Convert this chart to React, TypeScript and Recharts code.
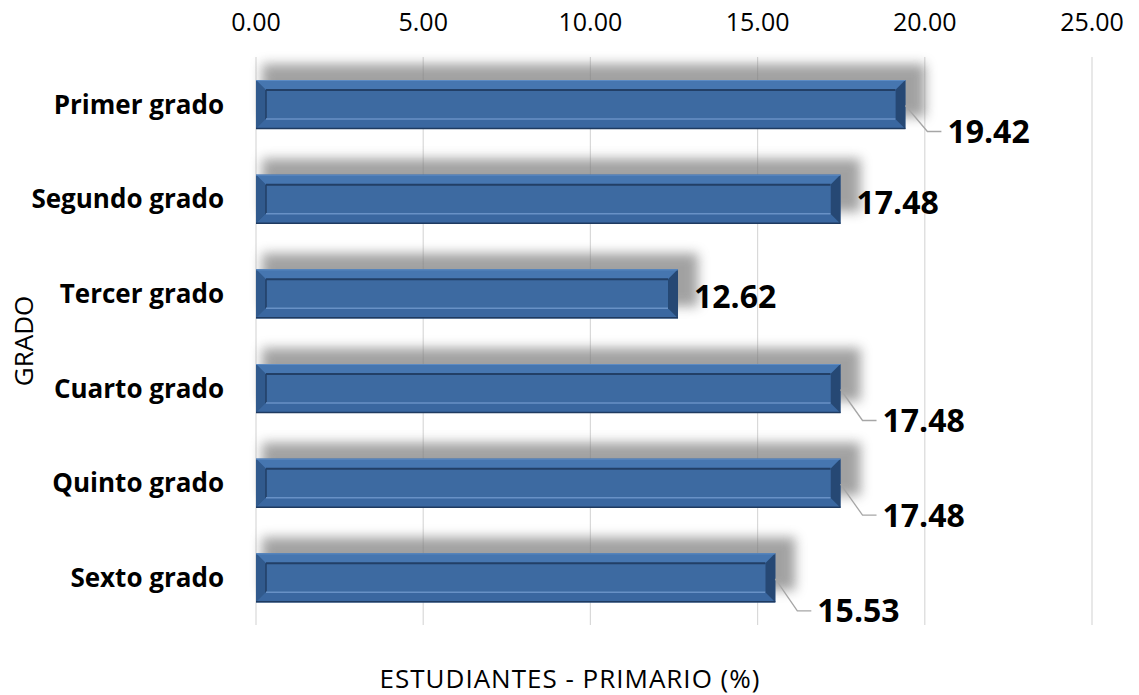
import { BarChart, Bar, XAxis, YAxis, CartesianGrid, LabelList } from 'recharts';

const grades = ['Primer grado', 'Segundo grado', 'Tercer grado', 'Cuarto grado', 'Quinto grado', 'Sexto grado'];
const percentages = [19.42, 17.48, 12.62, 17.48, 17.48, 15.53];
const xTicks = [0, 5, 10, 15, 20, 25];

const data = grades.map((grade, i) => ({ grade, value: percentages[i] }));

// how far Excel pulled each data label down (0 = beside the bar, no leader line)
const labelDrop = [27, 0, 0, 32, 32, 33];

const FONT = '"Open Sans", sans-serif';

function BevelBar(props: any) {
  const { x, y, width, height } = props;
  if (width <= 0) return null;
  const b = 10;
  const r = x + width;
  const btm = y + height;
  return (
    <g>
      <rect x={x + 6} y={y - 16} width={width + 14} height={height + 4} fill="#7a7a7a" opacity={0.7} filter="url(#barShadow)" />
      <rect x={x} y={y} width={width} height={height} fill="#3b669c" />
      {/* bevel faces */}
      <polygon points={`${x},${y} ${r},${y} ${r - b},${y + b} ${x + b},${y + b}`} fill="#4676b0" />
      <polygon points={`${x},${y} ${x + b},${y + b} ${x + b},${btm - b} ${x},${btm}`} fill="#315a8d" />
      <polygon points={`${x},${btm} ${x + b},${btm - b} ${r - b},${btm - b} ${r},${btm}`} fill="#3a67a0" />
      <polygon points={`${r},${y} ${r},${btm} ${r - b},${btm - b} ${r - b},${y + b}`} fill="#264874" />
      <rect x={x + b} y={y + b} width={width - 2 * b} height={height - 2 * b} fill="#3d6aa1" />
      <line x1={x + b} y1={y + b} x2={r - b} y2={y + b} stroke="#223f66" strokeWidth={2} />
      <line x1={x + b} y1={y + b} x2={x + b} y2={btm - b} stroke="#223f66" strokeWidth={1.5} />
      <line x1={x + b} y1={btm - b} x2={r - b} y2={btm - b} stroke="#6891c6" strokeWidth={1.5} />
      <line x1={x} y1={y + 0.5} x2={r} y2={y + 0.5} stroke="#5d8bc3" strokeWidth={1} />
      <line x1={x} y1={btm - 0.5} x2={r} y2={btm - 0.5} stroke="#1e3a60" strokeWidth={1.5} />
    </g>
  );
}

function ValueLabel(props: any) {
  const { x, y, width, height, value, index } = props;
  const endX = x + width;
  const midY = y + height / 2;
  const text = Number(value).toFixed(2);
  const drop = labelDrop[index];
  if (drop > 0) {
    const ly = midY + drop;
    return (
      <g>
        <polyline
          points={`${endX},${midY + 1} ${endX + 22},${ly} ${endX + 36},${ly}`}
          fill="none"
          stroke="#a6a6a6"
          strokeWidth={1.3}
        />
        <text x={endX + 42} y={ly} dy="0.36em" fontFamily={FONT} fontWeight={700} fontSize={32} fill="#000">
          {text}
        </text>
      </g>
    );
  }
  return (
    <text x={endX + 16} y={midY + 3} dy="0.36em" fontFamily={FONT} fontWeight={700} fontSize={32} fill="#000">
      {text}
    </text>
  );
}

export default function App() {
  return (
    <div style={{ position: 'absolute', left: 0, top: 0, width: 1139, height: 695, background: '#fff' }}>
      <BarChart
        width={1139}
        height={695}
        data={data}
        layout="vertical"
        margin={{ top: 0, right: 47, bottom: 70, left: 0 }}
      >
        <defs>
          <filter id="barShadow" x="-10%" y="-60%" width="120%" height="220%">
            <feGaussianBlur stdDeviation="6" />
          </filter>
        </defs>
        <CartesianGrid horizontal={false} stroke="#d9d9d9" strokeWidth={1.2} />
        <XAxis
          type="number"
          orientation="top"
          domain={[0, 25]}
          ticks={xTicks}
          tickFormatter={(v: number) => v.toFixed(2)}
          axisLine={false}
          tickLine={false}
          height={57}
          tickMargin={20}
          tick={{ fill: '#000', fontSize: 25, fontFamily: FONT }}
        />
        <YAxis
          type="category"
          dataKey="grade"
          width={256}
          axisLine={false}
          tickLine={false}
          tickMargin={26}
          tick={{ fill: '#000', fontSize: 26, fontWeight: 700, fontFamily: FONT }}
          label={{
            value: 'GRADO',
            angle: -90,
            position: 'insideLeft',
            offset: 24,
            style: { fill: '#000', fontSize: 26, fontFamily: FONT, textAnchor: 'middle' },
          }}
        />
        <Bar dataKey="value" barSize={49} shape={<BevelBar />} isAnimationActive={false}>
          <LabelList dataKey="value" content={<ValueLabel />} />
        </Bar>
      </BarChart>
      <div
        style={{
          position: 'absolute',
          top: 663,
          left: 0,
          width: 1140,
          textAlign: 'center',
          fontFamily: FONT,
          fontSize: 26,
          letterSpacing: 1,
          color: '#000',
          lineHeight: '30px',
        }}
      >
        ESTUDIANTES - PRIMARIO (%)
      </div>
    </div>
  );
}
